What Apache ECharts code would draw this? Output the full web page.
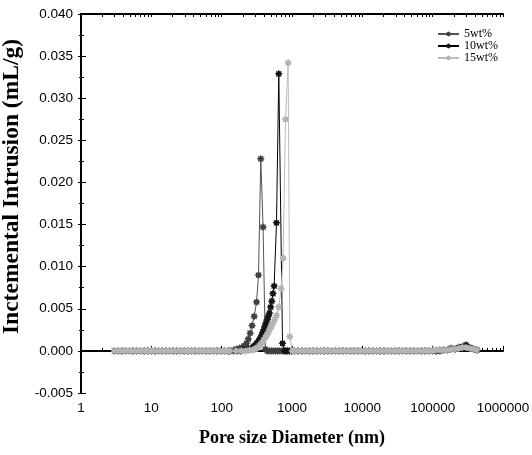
<!DOCTYPE html>
<html><head><meta charset="utf-8">
<script src="https://cdn.jsdelivr.net/npm/echarts@6/dist/echarts.min.js"></script>
<style>html,body{margin:0;padding:0;background:#fff}#c{width:532px;height:455px}</style>
</head><body><div id="c"></div>
<script>
// ---- data (pore diameter in nm, incremental intrusion in mL/g) ----
var seriesNames = ['5wt%', '10wt%', '15wt%'];

// common low-size baseline
var lowDiam = [3.0, 3.4, 3.8, 4.3, 4.9, 5.5, 6.2, 7.0, 7.9, 8.9, 10.0, 11.3, 12.7, 14.3, 16.1, 18.2, 20.5, 23.1, 26.0, 29.3, 33.0, 37.2, 41.9, 47.2, 53.2, 60.0, 67.6, 76.2, 85.9, 96.8, 109, 123];
var lowVal = [0, 0, 0, 0, 0, 0, 0, 0, 0, 0, 0, 0, 0, 0, 0, 0, 0, 0, 0, 0, 0, 0, 0, 0, 0, 0, 0, 0, 0, 0, 0, 0];

// peak region, per sample
var diam5 = [131, 149, 164, 178, 194, 210, 226, 239, 254, 271, 290, 313, 334, 360, 388, 418, 445, 475, 507, 541, 578, 617, 659, 703, 751, 802, 856, 914, 976];
var val5 = [0, 0.0001, 0.0002, 0.0003, 0.0004, 0.0006, 0.0009, 0.0014, 0.0021, 0.0030, 0.0041, 0.0058, 0.0090, 0.0228, 0.0147, 0.0002, 0, 0, 0, 0, 0, 0, 0, 0, 0, 0, 0, 0, 0];

var diam10 = [131, 149, 166, 185, 204, 221, 237, 252, 265, 278, 287, 296, 306, 316, 327, 338, 349, 360, 372, 385, 398, 411, 426, 443, 460, 479, 497, 516, 536, 557, 602, 649, 733, 790, 850, 915, 985];
var val10 = [0, 0, 0, 0, 0.0001, 0.0001, 0.0002, 0.0002, 0.0003, 0.0004, 0.0005, 0.0006, 0.0007, 0.0009, 0.0010, 0.0012, 0.0014, 0.0016, 0.0019, 0.0022, 0.0025, 0.0029, 0.0033, 0.0037, 0.0041, 0.0045, 0.0052, 0.0059, 0.0068, 0.0077, 0.0152, 0.0329, 0.0009, 0, 0, 0, 0];

var diam15 = [131, 160, 190, 220, 250, 275, 296, 310, 327, 343, 360, 378, 397, 418, 439, 461, 484, 508, 534, 567, 602, 649, 700, 748, 809, 881, 930, 1010];
var val15 = [0, 0, 0, 0, 0.0001, 0.0001, 0.0002, 0.0003, 0.0004, 0.0006, 0.0008, 0.0010, 0.0013, 0.0016, 0.0019, 0.0022, 0.0026, 0.0029, 0.0033, 0.0037, 0.0042, 0.0052, 0.0074, 0.0110, 0.0275, 0.0342, 0.0017, 0];

// common high-size baseline
var highDiam = [1080, 1220, 1380, 1560, 1760, 1990, 2250, 2540, 2870, 3240, 3660, 4140, 4680, 5290, 5980, 6760, 7640, 8630, 9750, 11000, 12400, 14100, 15900, 17900, 20300, 22900, 25900, 29300, 33100, 37400, 42200, 47700, 53900, 60900, 68900, 77800, 87900, 99400, 112000, 127000, 143000, 162000, 183000, 207000, 234000, 264000, 298000, 337000, 381000, 424000];
var high5 = [0, 0, 0, 0, 0, 0, 0, 0, 0, 0, 0, 0, 0, 0, 0, 0, 0, 0, 0, 0, 0, 0, 0, 0, 0, 0, 0, 0, 0, 0, 0, 0, 0, 0, 0, 0, 0, 0, 0, 0.0001, 0.0001, 0.0001, 0.0002, 0.0002, 0.0003, 0.0004, 0.0005, 0.0003, 0.0002, 0.0001];
var high10 = [0, 0, 0, 0, 0, 0, 0, 0, 0, 0, 0, 0, 0, 0, 0, 0, 0, 0, 0, 0, 0, 0, 0, 0, 0, 0, 0, 0, 0, 0, 0, 0, 0, 0, 0, 0, 0, 0, 0, 0, 0.0001, 0.0001, 0.0003, 0.0002, 0.0004, 0.0005, 0.0007, 0.0004, 0.0002, 0.0001];
var high15 = [0, 0, 0, 0, 0, 0, 0, 0, 0, 0, 0, 0, 0, 0, 0, 0, 0, 0, 0, 0, 0, 0, 0, 0, 0, 0, 0, 0, 0, 0, 0, 0, 0, 0, 0, 0, 0, 0, 0.0001, 0.0001, 0.0001, 0.0001, 0.0002, 0.0002, 0.0003, 0.0004, 0.0004, 0.0003, 0.0002, 0.0001];

// tick values for the log x axis (in nm)
var xMinorTicks = [2, 3, 4, 5, 6, 7, 8, 9, 20, 30, 40, 50, 60, 70, 80, 90, 200, 300, 400, 500, 600, 700, 800, 900, 2000, 3000, 4000, 5000, 6000, 7000, 8000, 9000, 20000, 30000, 40000, 50000, 60000, 70000, 80000, 90000, 200000, 300000, 400000, 500000, 600000, 700000, 800000, 900000];
var xMajorTicks = [1, 10, 100, 1000, 10000, 100000, 1000000];

// ---- build ----
function pairs(xs, ys) { return xs.map(function (x, i) { return [x, ys[i]]; }); }
function build(mid, midVal, hi) {
  return pairs(lowDiam, lowVal).concat(pairs(mid, midVal)).concat(pairs(highDiam, hi));
}
function lg(arr) { return arr.map(function (v) { return Math.log10(v); }); }
var star = 'path://M1 0L0.6 0.25L0.707 0.707L0.25 0.6L0 1L-0.25 0.6L-0.707 0.707L-0.6 0.25L-1 0L-0.6 -0.25L-0.707 -0.707L-0.25 -0.6L0 -1L0.25 -0.6L0.707 -0.707L0.6 -0.25Z';
var sans = '"Liberation Sans", Arial, sans-serif';
var serif = '"Liberation Serif", "Times New Roman", serif';
var colorsLine = ['#555555', '#000000', '#bcbcbc'];
var colorsMark = ['#404040', '#151515', '#b4b4b4'];
var datasets = [build(diam5, val5, high5), build(diam10, val10, high10), build(diam15, val15, high15)];

var chart = echarts.init(document.getElementById('c'), null, { renderer: 'canvas' });
var axisLine = { show: true, lineStyle: { color: '#000', width: 2 } };
var tickLine = { color: '#000', width: 1 };

var option = {
  animation: false,
  backgroundColor: '#fff',
  grid: { left: 81, right: 29, top: 14, bottom: 62, containLabel: false, outerBoundsMode: 'none' },
  legend: {
    orient: 'vertical', right: 34, top: 28, padding: 0, itemGap: 0,
    itemWidth: 21, itemHeight: 7,
    textStyle: { fontFamily: serif, fontSize: 12, color: '#000', lineHeight: 11 },
    data: seriesNames
  },
  xAxis: [
    {
      type: 'log', logBase: 10, min: 1, max: 1000000, position: 'bottom',
      axisLine: axisLine,
      axisTick: { show: true, inside: true, length: 5, lineStyle: tickLine },
      axisLabel: { fontFamily: sans, fontSize: 13.5, color: '#000', margin: 8, formatter: function (v) { return String(Math.round(v)); } },
      splitLine: { show: false },
      name: 'Pore size Diameter (nm)', nameLocation: 'middle', nameGap: 36,
      nameTextStyle: { fontFamily: serif, fontWeight: 'bold', fontSize: 18, color: '#000' }
    },
    {
      // minor ticks (axis in log10 units)
      type: 'value', min: 0, max: 6, position: 'bottom',
      axisLine: { show: false },
      axisTick: { show: true, inside: true, length: 3, customValues: lg(xMinorTicks), lineStyle: tickLine },
      axisLabel: { show: false }, splitLine: { show: false }
    },
    {
      type: 'value', min: 0, max: 6, position: 'top',
      axisLine: axisLine,
      axisTick: { show: true, inside: true, length: 3, customValues: lg(xMajorTicks.concat(xMinorTicks)), lineStyle: tickLine },
      axisLabel: { show: false }, splitLine: { show: false }
    }
  ],
  yAxis: [
    {
      type: 'value', min: -0.005, max: 0.04, interval: 0.005, position: 'left',
      axisLine: axisLine,
      axisTick: { show: true, inside: true, length: 5, lineStyle: tickLine },
      minorTick: { show: true, splitNumber: 2, length: 3, lineStyle: tickLine },
      axisLabel: { fontFamily: sans, fontSize: 13.5, color: '#000', margin: 8, formatter: function (v) { return v.toFixed(3); } },
      splitLine: { show: false },
      name: 'Inctemental Intrusion (mL/g)', nameLocation: 'middle', nameGap: 52,
      nameTextStyle: { fontFamily: serif, fontWeight: 'bold', fontSize: 23.5, color: '#000', padding: [0, 0, 0, 34] }
    },
    {
      type: 'value', min: -0.005, max: 0.04, interval: 0.005, position: 'right',
      axisLine: axisLine,
      axisTick: { show: true, inside: true, length: 3, lineStyle: tickLine },
      minorTick: { show: true, splitNumber: 2, length: 2, lineStyle: tickLine },
      axisLabel: { show: false }, splitLine: { show: false }
    }
  ],
  series: seriesNames.map(function (name, i) {
    return {
      name: name, type: 'line', xAxisIndex: 0, yAxisIndex: 0,
      data: datasets[i], showSymbol: true, symbol: star, symbolSize: 8, symbolKeepAspect: true,
      lineStyle: { color: colorsLine[i], width: 1 },
      itemStyle: { color: colorsMark[i] },
      emphasis: { disabled: true }, z: 2 + i
    };
  })
};
chart.setOption(option);
</script></body></html>
